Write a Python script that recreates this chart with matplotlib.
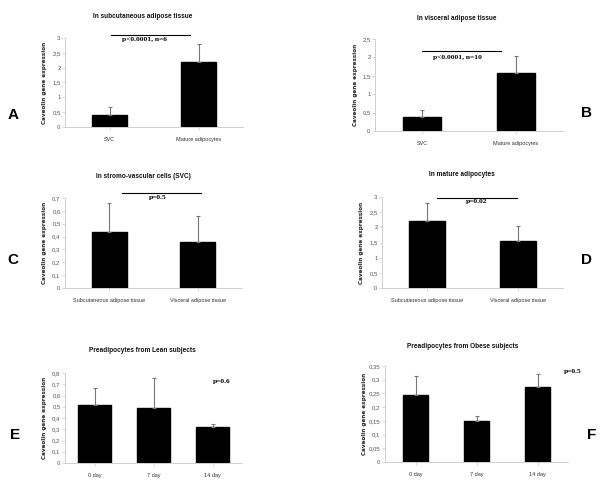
import matplotlib
matplotlib.use("Agg")
import matplotlib.pyplot as plt
from matplotlib.ticker import FuncFormatter, MultipleLocator
from matplotlib.lines import Line2D
from matplotlib import font_manager
import numpy as np

# ---------------- data ----------------
cats_A = ["SVC", "Mature adipocytes"]
vals_A = [0.42, 2.2]
err_A = [0.25, 0.6]

cats_B = ["SVC", "Mature adipocytes"]
vals_B = [0.37, 1.57]
err_B = [0.2, 0.46]

cats_C = ["Subcutaneous adipose tissue", "Visceral adipose tissue"]
vals_C = [0.435, 0.36]
err_C = [0.225, 0.2]

cats_D = ["Subcutaneous adipose tissue", "Visceral adipose tissue"]
vals_D = [2.2, 1.55]
err_D = [0.6, 0.48]

cats_E = ["0 day", "7 day", "14 day"]
vals_E = [0.52, 0.485, 0.32]
err_E = [0.15, 0.275, 0.03]

cats_F = ["0 day", "7 day", "14 day"]
vals_F = [0.245, 0.15, 0.272]
err_F = [0.07, 0.018, 0.05]

titles = ["In subcutaneous adipose tissue", "In visceral adipose tissue",
          "In stromo-vascular cells (SVC)", "In mature adipocytes",
          "Preadipocytes from Lean subjects", "Preadipocytes from Obese subjects"]
pvals = ["p<0.0001, n=6", "p<0.0001, n=10", "p=0.5", "p=0.02", "p=0.6", "p=0.5"]
letters = ["A", "B", "C", "D", "E", "F"]
ylims = [3, 2.5, 0.7, 3, 0.8, 0.35]
ysteps = [0.5, 0.5, 0.1, 0.5, 0.1, 0.05]
ylabel = "Caveolin gene expression"

W, H = 600, 486
fig = plt.figure(figsize=(6, 4.86), dpi=100)
fig.patch.set_facecolor("white")

def fx(x):
    return x / W

def fy(y):
    return 1 - y / H

installed = {f.name for f in font_manager.fontManager.ttflist}
narrow_name = "Liberation Sans Narrow" if "Liberation Sans Narrow" in installed else "Liberation Sans"
narrow = [narrow_name, "DejaVu Sans"]
is_narrow = narrow_name == "Liberation Sans Narrow"

# axes boxes in pixel: left, right, top, bottom
boxes = [(65, 243, 38, 127), (375, 563, 39, 131),
         (65, 242, 198, 288), (382, 563, 197, 288),
         (65, 242, 373, 463), (385, 568, 366, 462)]
label_x = [47, 358, 47, 364, 47, 367]
widths = [0.4, 0.4, 0.4, 0.4, 0.55, 0.4]

data = [(cats_A, vals_A, err_A), (cats_B, vals_B, err_B), (cats_C, vals_C, err_C),
        (cats_D, vals_D, err_D), (cats_E, vals_E, err_E), (cats_F, vals_F, err_F)]

axis_gray = "#c8c8c8"
text_gray = "#555555"
tick_fs = 4.6 if is_narrow else 4.0
title_fs = 5.6 if is_narrow else 4.7

def fmt(v, pos):
    s = ("%.2f" % v).rstrip("0").rstrip(".")
    return s.replace(".", ",")

for i, ((cats, vals, errs), (l, r, t, b)) in enumerate(zip(data, boxes)):
    ax = fig.add_axes([fx(l), fy(b), fx(r) - fx(l), (b - t) / H])
    x = np.arange(len(cats))
    ax.bar(x, vals, width=widths[i], color="black", edgecolor="black", zorder=2)
    ax.errorbar(x, vals, yerr=[np.zeros(len(errs)), errs], fmt="none",
                ecolor="#777777", elinewidth=0.8, capsize=1.5, capthick=0.8, zorder=3)
    ax.set_xlim(-0.5, len(cats) - 0.5)
    ax.set_ylim(0, ylims[i])
    ax.yaxis.set_major_locator(MultipleLocator(ysteps[i]))
    ax.yaxis.set_major_formatter(FuncFormatter(fmt))
    ax.set_xticks(x)
    ax.set_xticklabels(cats, fontsize=tick_fs, family=narrow, color="#333333")
    for lab in ax.get_yticklabels():
        lab.set_fontsize(tick_fs + 0.3)
        lab.set_family(narrow)
        lab.set_color(text_gray)
    ax.tick_params(axis="both", length=2, width=0.5, color=axis_gray, pad=1.2)
    ax.tick_params(axis="x", pad=5)
    for s in ["top", "right"]:
        ax.spines[s].set_visible(False)
    for s in ["left", "bottom"]:
        ax.spines[s].set_color(axis_gray)
        ax.spines[s].set_linewidth(0.6)
    ax.set_facecolor("none")
    ax.set_ylabel(ylabel, fontsize=4.1, fontweight="bold", family="DejaVu Sans",
                  color="#222222")
    ax.yaxis.set_label_coords(-(l - label_x[i]) / (r - l), 0.5)

# titles
title_pos = [(143, 17), (457, 18), (143, 176), (462, 175), (142, 351), (463, 346)]
for (tx, ty), s in zip(title_pos, titles):
    fig.text(fx(tx), fy(ty), s, ha="center", va="center", fontsize=title_fs,
             fontweight="bold", family=narrow, color="#111111")

# significance lines
sig_lines = [(111, 190, 35), (422, 501, 51), (122, 201, 193), (437, 517, 198)]
for x0, x1, y in sig_lines:
    fig.add_artist(Line2D([fx(x0), fx(x1)], [fy(y), fy(y)], color="black", lw=0.8))

# p-value texts
p_pos = [(145, 40), (457, 57), (158, 197), (477, 202), (222, 382), (573, 372)]
for (px, py), s in zip(p_pos, pvals):
    fig.text(fx(px), fy(py), s, ha="center", va="center", fontsize=5.4,
             fontweight="bold", family="Liberation Serif", color="black")

# panel letters
let_pos = [(13, 115), (587, 113), (13, 260), (587, 260), (15, 435), (592, 435)]
for (lx, ly), s in zip(let_pos, letters):
    fig.text(fx(lx), fy(ly), s, ha="center", va="center", fontsize=11,
             fontweight="bold", family="Liberation Sans", color="black")

fig.savefig("out.png", dpi=100, facecolor="white")
